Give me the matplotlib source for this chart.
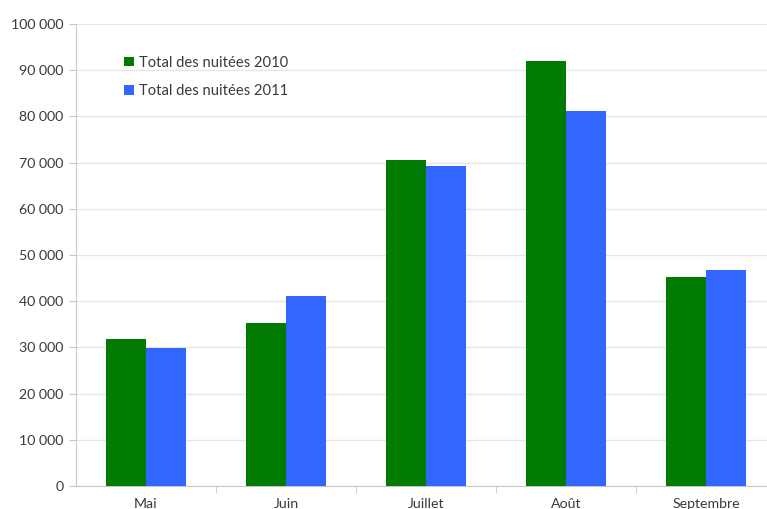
import matplotlib.pyplot as plt
import numpy as np
from matplotlib.ticker import FuncFormatter

plt.rcParams['font.family'] = ['Lato', 'DejaVu Sans']

mois = ['Mai', 'Juin', 'Juillet', 'Août', 'Septembre']
nuitees_2010 = [31800, 35300, 70600, 92000, 45200]
nuitees_2011 = [29800, 41100, 69300, 81200, 46800]

vert = '#017A01'
bleu = '#3366FF'
gris_txt = '#3a3a3a'

fig = plt.figure(figsize=(7.67, 5.09), dpi=100)
ax = fig.add_axes([76/767, 1 - 486/509, 700/767, 462/509])

x = np.arange(len(mois))
w = 0.285
ax.bar(x - w/2, nuitees_2010, w, color=vert, label='Total des nuitées 2010', zorder=3)
ax.bar(x + w/2, nuitees_2011, w, color=bleu, label='Total des nuitées 2011', zorder=3)

ax.set_xlim(-0.5, 4.5)
ax.set_ylim(0, 100000)
ax.set_yticks(np.arange(0, 100001, 10000))
ax.yaxis.set_major_formatter(FuncFormatter(lambda v, p: f'{int(v):,}'.replace(',', ' ')))
ax.grid(axis='y', color='#e6e6e6', linewidth=1, zorder=0)

ax.set_xticks(x)
ax.set_xticklabels(mois)
ax.set_xticks(np.arange(0.5, 4.5, 1), minor=True)
ax.tick_params(axis='x', which='major', length=0, pad=9, labelsize=10.2, colors=gris_txt)
ax.tick_params(axis='x', which='minor', length=5, color='#c8c8c8')
ax.tick_params(axis='y', length=5, color='#c8c8c8', labelsize=10.2, colors=gris_txt, pad=4)

for s in ['top', 'right']:
    ax.spines[s].set_visible(False)
for s in ['left', 'bottom']:
    ax.spines[s].set_color('#c8c8c8')

ax.legend(loc='upper left', bbox_to_anchor=(0.05, 0.96), frameon=False,
          handlelength=0.65, handleheight=0.65, handletextpad=0.35,
          labelspacing=1.0, fontsize=10.6, labelcolor=gris_txt)

fig.savefig('out.png', dpi=100)
